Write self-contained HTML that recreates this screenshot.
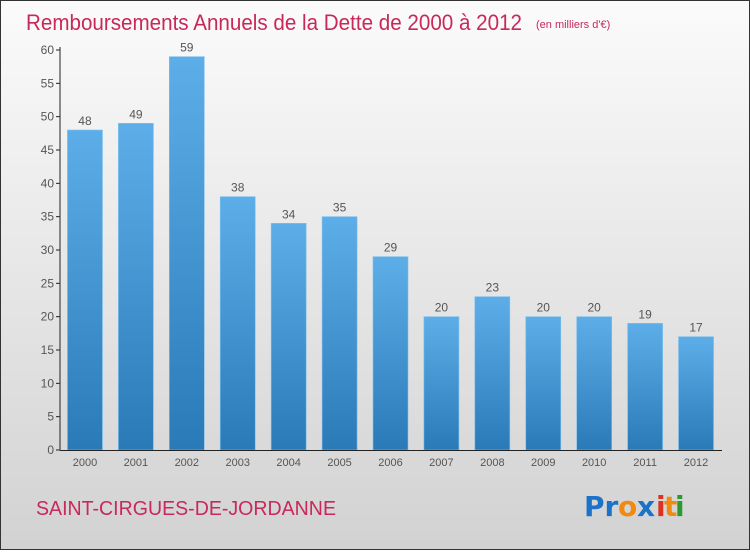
<!DOCTYPE html>
<html><head><meta charset="utf-8"><style>
body{margin:0;width:750px;height:550px;overflow:hidden;font-family:"Liberation Sans","DejaVu Sans",sans-serif}
</style></head><body>
<svg id="c" width="750" height="550">
<defs>
<linearGradient id="bg" x1="0" y1="0" x2="0" y2="1"><stop offset="0" stop-color="#fbfbfb"/><stop offset="1" stop-color="#d2d2d2"/></linearGradient>
<linearGradient id="bar" x1="0" y1="0" x2="0" y2="1"><stop offset="0" stop-color="#5daee8"/><stop offset="1" stop-color="#2a7ab8"/></linearGradient>
</defs>
<rect x="0.5" y="0.5" width="749" height="549" fill="url(#bg)" stroke="#333"/>
<text x="26" y="30" font-size="22" fill="#c8285a" textLength="496" lengthAdjust="spacingAndGlyphs">Remboursements Annuels de la Dette de 2000 à 2012</text>
<text x="536" y="28" font-size="11" fill="#c8285a">(en milliers d'€)</text>
<g id="plot"></g>
<text x="36" y="515" font-size="20" fill="#c8285a" textLength="300" lengthAdjust="spacingAndGlyphs">SAINT-CIRGUES-DE-JORDANNE</text>
<g font-size="28" font-weight="bold" style="font-family:'DejaVu Sans',sans-serif">
<text x="584" y="516" fill="#1a73c8">Pr</text><text x="618" y="516" fill="#f08a10">o</text><text x="637" y="516" fill="#1a73c8">x</text><text x="656" y="516" fill="#e03020">i</text><text x="664" y="516" fill="#f08a10">t</text><text x="675" y="516" fill="#2a9a30">i</text>
</g>
</svg>
<script>
const categories=["2000","2001","2002","2003","2004","2005","2006","2007","2008","2009","2010","2011","2012"];
const values=[48,49,59,38,34,35,29,20,23,20,20,19,17];
const yTicks=[0,5,10,15,20,25,30,35,40,45,50,55,60];
const NS="http://www.w3.org/2000/svg",g=document.getElementById('plot');
const y0=450,yTop=50,yMax=60,x0=60,x1=722;
const y=v=>y0-(v/yMax)*(y0-yTop);
const step=(x1-x0)/categories.length;
const xc=i=>x0+step*(i+0.5)-0.5;
function el(t,a){const e=document.createElementNS(NS,t);for(const k in a)e.setAttribute(k,a[k]);g.appendChild(e);return e;}
yTicks.forEach(t=>{
 const l=el('line',{x1:x0-4,x2:x0,y1:y(t),y2:y(t),stroke:'#222'});
 
 
 const tx=el('text',{x:x0-6,y:y(t)+4,'font-size':12,fill:'#555','text-anchor':'end'});
 tx.textContent=t;
 
 
});
values.forEach((v,i)=>{
 const r=el('rect',{x:xc(i)-17.5,y:y(v),width:35,height:y0-y(v),fill:'url(#bar)',stroke:'#7cc0ee','stroke-width':0.6});
 
 
 const t=el('text',{x:xc(i),y:y(v)-5,'font-size':12,fill:'#555','text-anchor':'middle'});
 t.textContent=v;
 
 
 const c=el('text',{x:xc(i),y:y0+16,'font-size':11,fill:'#555','text-anchor':'middle'});
 c.textContent=categories[i];
 
 
});
const ya=el('line',{x1:x0,x2:x0,y1:yTop-3,y2:y0,stroke:'#222'});


const xa=el('line',{x1:x0,x2:x1,y1:y0+0.5,y2:y0+0.5,stroke:'#222'});


</script>
</body></html>
